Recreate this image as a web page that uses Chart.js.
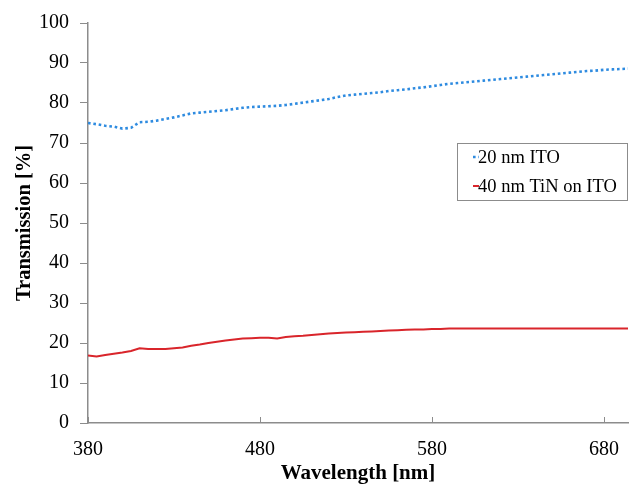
<!DOCTYPE html>
<html>
<head>
<meta charset="utf-8">
<script src="https://cdn.jsdelivr.net/npm/chart.js"></script>
<style>
  html, body { margin: 0; padding: 0; background: #fff; }
  #wrap { width: 630px; height: 486px; position: relative; }
</style>
</head>
<body>
<div id="wrap"><canvas id="chart"></canvas></div>
<script>
// wavelength in nm
const wavelengths = [380, 385, 390, 395, 400, 405, 410, 415, 420, 425, 430, 435, 440, 445, 450, 455,
  460, 465, 470, 475, 480, 485, 490, 495, 500, 505, 510, 515, 520, 525, 530, 535, 540, 545, 550,
  555, 560, 565, 570, 575, 580, 585, 590, 595, 600, 605, 610, 615, 620, 625, 630, 635, 640, 645,
  650, 655, 660, 665, 670, 675, 680, 685, 690, 694];

const ito20 = [75.0, 74.7, 74.3, 74.1, 73.6, 73.8, 75.2, 75.3, 75.6, 76.0, 76.4, 76.9, 77.4, 77.6,
  77.8, 78.0, 78.2, 78.5, 78.8, 79.0, 79.1, 79.2, 79.3, 79.5, 79.8, 80.1, 80.4, 80.7, 81.0, 81.5,
  81.9, 82.1, 82.3, 82.5, 82.7, 83.0, 83.2, 83.4, 83.7, 83.9, 84.2, 84.5, 84.8, 85.0, 85.2, 85.4,
  85.6, 85.8, 86.0, 86.2, 86.4, 86.6, 86.8, 87.0, 87.2, 87.4, 87.6, 87.8, 88.0, 88.1, 88.3, 88.4,
  88.5, 88.6];

const tin40 = [16.9, 16.6, 17.0, 17.3, 17.6, 18.0, 18.7, 18.5, 18.5, 18.5, 18.7, 18.9, 19.3, 19.6,
  20.0, 20.3, 20.6, 20.9, 21.1, 21.2, 21.3, 21.3, 21.1, 21.5, 21.7, 21.8, 22.0, 22.2, 22.4, 22.5,
  22.6, 22.7, 22.8, 22.9, 23.0, 23.1, 23.2, 23.3, 23.4, 23.4, 23.5, 23.5, 23.6, 23.6, 23.6, 23.6,
  23.6, 23.6, 23.6, 23.6, 23.6, 23.6, 23.6, 23.6, 23.6, 23.6, 23.6, 23.6, 23.6, 23.6, 23.6, 23.6,
  23.6, 23.6];

const xTicks = [380, 480, 580, 680];
const seriesNames = ['20 nm ITO', '40 nm TiN on ITO'];

const axisGray = '#8c8c8c';
const serif = "'Liberation Serif', 'Times New Roman', serif";

// x axis tick marks point into the plot
const innerTicks = {
  id: 'innerTicks',
  afterDraw(chart) {
    const { ctx, chartArea, scales } = chart;
    ctx.save();
    ctx.strokeStyle = axisGray;
    ctx.lineWidth = 1;
    xTicks.forEach(v => {
      const px = Math.round(scales.x.getPixelForValue(v)) + 0.5;
      ctx.beginPath();
      ctx.moveTo(px, chartArea.bottom);
      ctx.lineTo(px, chartArea.bottom - 6);
      ctx.stroke();
    });
    ctx.restore();
  }
};

// boxed legend inside the plot, right side
const boxLegend = {
  id: 'boxLegend',
  afterDraw(chart) {
    const { ctx, chartArea } = chart;
    const left = chartArea.right - 171, top = 143, w = 170, h = 57;
    ctx.save();
    ctx.fillStyle = '#fff';
    ctx.fillRect(left, top, w, h);
    ctx.strokeStyle = '#8c8c8c';
    ctx.lineWidth = 1;
    ctx.strokeRect(left + 0.5, top + 0.5, w, h);
    ctx.font = '18.5px ' + serif;
    ctx.textBaseline = 'middle';
    ctx.fillStyle = '#000';
    chart.data.datasets.forEach((ds, i) => {
      const y = top + 14 + i * 29;
      ctx.strokeStyle = ds.borderColor;
      ctx.lineWidth = ds.borderWidth;
      ctx.setLineDash(ds.borderDash || []);
      ctx.beginPath();
      ctx.moveTo(left + 16, y);
      ctx.lineTo(left + 22, y);
      ctx.stroke();
      ctx.setLineDash([]);
      ctx.fillText(ds.label, left + 21, y + 1);
    });
    ctx.restore();
  }
};

new Chart(document.getElementById('chart'), {
  type: 'line',
  data: {
    labels: wavelengths,
    datasets: [
      {
        label: seriesNames[0],
        data: wavelengths.map((w, i) => ({ x: w, y: ito20[i] })),
        borderColor: '#2e8be0',
        borderWidth: 2.6,
        borderDash: [2.6, 2.8],
        borderCapStyle: 'butt',
        pointRadius: 0,
        tension: 0,
        fill: false,
      },
      {
        label: seriesNames[1],
        data: wavelengths.map((w, i) => ({ x: w, y: tin40[i] })),
        borderColor: '#d9252b',
        borderWidth: 2,
        pointRadius: 0,
        tension: 0,
        fill: false,
      },
    ],
  },
  options: {
    responsive: true,
    maintainAspectRatio: false,
    animation: false,
    layout: { padding: { top: 20, right: 2, left: 0, bottom: 0 } },
    plugins: {
      legend: { display: false },
      tooltip: { enabled: false },
    },
    scales: {
      x: {
        type: 'linear',
        min: 380,
        max: 694,
        afterBuildTicks: axis => { axis.ticks = xTicks.map(v => ({ value: v })); },
        afterFit: axis => { axis.height = 63; },
        grid: { display: false },
        border: { display: true, color: axisGray, width: 1.5 },
        ticks: {
          color: '#000',
          font: { family: serif, size: 20 },
          padding: 7,
          maxRotation: 0,
        },
        title: {
          display: true,
          text: 'Wavelength [nm]',
          color: '#000',
          font: { family: serif, size: 21, weight: 'bold' },
          padding: { top: 0, bottom: 0 },
        },
      },
      y: {
        min: 0,
        max: 100,
        afterFit: axis => { axis.width = 88; },
        grid: {
          drawOnChartArea: false,
          drawTicks: true,
          tickLength: 8,
          color: axisGray,
        },
        border: { display: true, color: axisGray, width: 1.5 },
        ticks: {
          stepSize: 10,
          color: '#000',
          font: { family: serif, size: 20 },
          padding: 11,
        },
        title: {
          display: true,
          text: 'Transmission [%]',
          color: '#000',
          font: { family: serif, size: 20.5, weight: 'bold' },
          padding: { top: 12, bottom: 0 },
        },
      },
    },
  },
  plugins: [innerTicks, boxLegend],
});
</script>
</body>
</html>
